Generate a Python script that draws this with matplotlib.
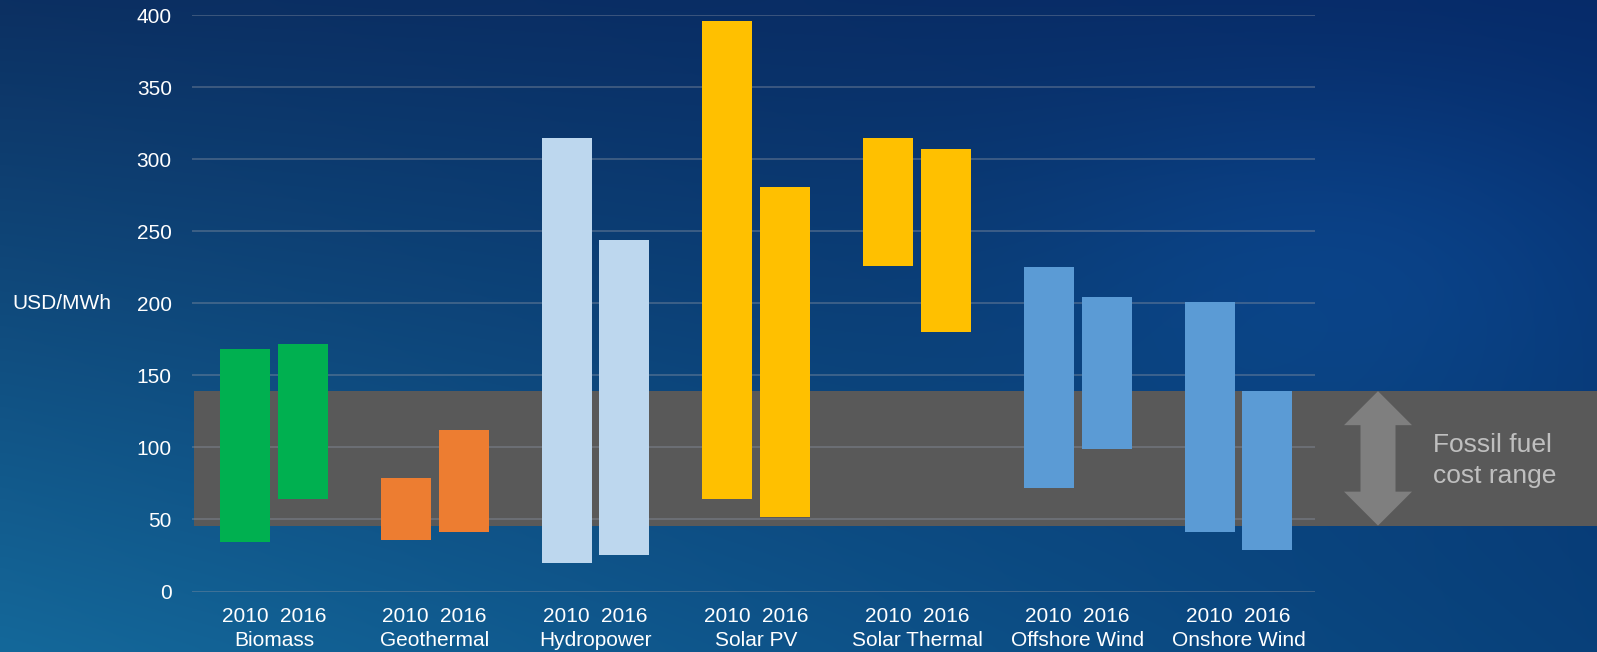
import matplotlib.pyplot as plt
import matplotlib.transforms as mtransforms
from matplotlib.patches import Rectangle, Polygon
import numpy as np

plt.rcParams['font.family'] = ['Liberation Sans', 'DejaVu Sans']

# data (USD/MWh)
categories = ['Biomass', 'Geothermal', 'Hydropower', 'Solar PV',
              'Solar Thermal', 'Offshore Wind', 'Onshore Wind']
years = ['2010', '2016']
low_2010 = [34, 36, 20, 64, 226, 72, 41]
high_2010 = [168, 79, 315, 396, 315, 225, 201]
low_2016 = [64, 41, 25, 52, 180, 99, 29]
high_2016 = [172, 112, 244, 281, 307, 204, 139]
colors = ['#00b050', '#ed7d31', '#bdd7ee', '#ffc000', '#ffc000', '#5b9bd5', '#5b9bd5']
fossil_low, fossil_high = 45.7, 139
yticks = [0, 50, 100, 150, 200, 250, 300, 350, 400]

W, H = 1597, 652
fig = plt.figure(figsize=(W / 100, H / 100), dpi=100)

# background gradient
bg = fig.add_axes([0, 0, 1, 1], zorder=-1)
bg.set_axis_off()
tl = np.array([0x0c, 0x30, 0x62]) / 255
tr = np.array([0x06, 0x2a, 0x68]) / 255
bl = np.array([0x14, 0x68, 0x9a]) / 255
br = np.array([0x08, 0x40, 0x7a]) / 255
u = np.linspace(0, 1, 200)[None, :, None]
v = np.linspace(0, 1, 100)[:, None, None]
img = (1 - v) * ((1 - u) * tl + u * tr) + v * ((1 - u) * bl + u * br)
# soft lighter glow in the middle-right
xx, yy = np.meshgrid(np.linspace(0, 1, 200), np.linspace(0, 1, 100))
glow = np.exp(-((xx - 0.85) ** 2 / 0.04 + (yy - 0.4) ** 2 / 0.08))
img = img + glow[:, :, None] * np.array([0.01, 0.05, 0.09])
bg.imshow(np.clip(img, 0, 1), aspect='auto', extent=[0, 1, 0, 1], interpolation='bicubic')
bg.set_xlim(0, 1)
bg.set_ylim(0, 1)

ax_left, ax_right = 192, 1315
ax_top, ax_bot = 15, 591.5
ax = fig.add_axes([ax_left / W, (H - ax_bot) / H, (ax_right - ax_left) / W, (ax_bot - ax_top) / H])
ax.patch.set_alpha(0)
for s in ax.spines.values():
    s.set_visible(False)

n = len(categories)
x = np.arange(n)
ax.set_xlim(-0.51, 6.476)
ax.set_ylim(0, 400)
bw = 0.311
off = 0.18

# gridlines
for t in yticks:
    ax.axhline(t, color='#8a93a3', alpha=0.45, lw=1.2, zorder=1)

# fossil band, from the plot left edge to the figure right edge
blend = mtransforms.blended_transform_factory(fig.transFigure, ax.transData)
ax.add_patch(Rectangle((194 / W, fossil_low), 1 - 194 / W, fossil_high - fossil_low,
                       transform=blend, facecolor='#595959', edgecolor='none',
                       clip_on=False, zorder=0.5))

# floating bars
ax.bar(x - off, np.array(high_2010) - np.array(low_2010), bottom=low_2010, width=bw,
       color=colors, zorder=2)
ax.bar(x + off, np.array(high_2016) - np.array(low_2016), bottom=low_2016, width=bw,
       color=colors, zorder=2)

# double arrow in the band
px = 400 / (ax_bot - ax_top)  # data units per pixel
cx = 1378 / W
hw = 34 / W
sw = 17.5 / W
hl = 34 * px
arrow = [(cx, fossil_high), (cx + hw, fossil_high - hl), (cx + sw, fossil_high - hl),
         (cx + sw, fossil_low + hl), (cx + hw, fossil_low + hl), (cx, fossil_low),
         (cx - hw, fossil_low + hl), (cx - sw, fossil_low + hl), (cx - sw, fossil_high - hl),
         (cx - hw, fossil_high - hl)]
ax.add_patch(Polygon(arrow, closed=True, transform=blend, facecolor='#7f7f7f',
                     edgecolor='none', clip_on=False, zorder=3))
ax.text(1433 / W, (fossil_low + fossil_high) / 2 - 1.5, 'Fossil fuel\ncost range', transform=blend,
        color='#bfbfbf', fontsize=19, va='center', ha='left', linespacing=1.33)

# y axis
ax.set_yticks(yticks)
ax.set_yticklabels([str(t) for t in yticks])
ax.tick_params(axis='y', length=0, pad=14.5, labelsize=15, labelcolor='white')
ax.set_xticks([])
ax.text(12 / W, 200, 'USD/MWh', transform=blend, color='white', fontsize=15,
        va='center', ha='left')

# x labels: years under each bar, category name under each group
for i in range(n):
    for dx, yr in zip([-off, off], years):
        ax.annotate(yr, xy=(x[i] + dx, 0), xycoords=('data', 'axes fraction'),
                    xytext=(0, -30 * 0.72), textcoords='offset points',
                    ha='center', va='baseline', color='white', fontsize=15)
    ax.annotate(categories[i], xy=(x[i], 0), xycoords=('data', 'axes fraction'),
                xytext=(0, -54.5 * 0.72), textcoords='offset points',
                ha='center', va='baseline', color='white', fontsize=15)

fig.savefig('out.png', dpi=100)
